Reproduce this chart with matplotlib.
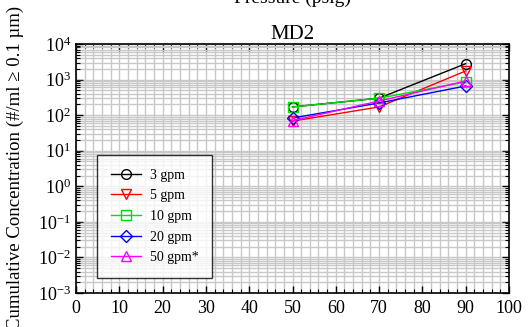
import matplotlib
matplotlib.use("Agg")
import matplotlib.pyplot as plt
from matplotlib.ticker import MultipleLocator, LogLocator, NullFormatter

plt.rcParams['font.family'] = ['Liberation Serif', 'DejaVu Serif']
plt.rcParams['mathtext.fontset'] = 'stix'

pressure = [50, 70, 90]
series_names = ["3 gpm", "5 gpm", "10 gpm", "20 gpm", "50 gpm*"]
conc_3 = [170, 300, 2800]
conc_5 = [68, 170, 1750]
conc_10 = [170, 300, 860]
conc_20 = [83, 220, 660]
conc_50 = [70, 250, 910]
colors = ["black", "red", "#00dd00", "blue", "magenta"]
markers = ["o", "v", "s", "D", "^"]
x_ticks = [0, 10, 20, 30, 40, 50, 60, 70, 80, 90, 100]

fig = plt.figure(figsize=(5.29, 3.27), dpi=100)
ax = fig.add_axes([76/529, 1 - 293/327, 433/529, 249/327])

for vals, name, c, m in zip([conc_3, conc_5, conc_10, conc_20, conc_50],
                            series_names, colors, markers):
    ax.plot(pressure, vals, color=c, marker=m, markersize=7 if m != "D" else 6,
            markerfacecolor="none", markeredgecolor=c, lw=1, label=name)

ax.set_yscale("log")
ax.set_xlim(0, 100)
ax.set_ylim(1e-3, 1e4)
ax.set_xticks(x_ticks)
ax.xaxis.set_minor_locator(MultipleLocator(2))
ax.yaxis.set_major_locator(LogLocator(base=10, numticks=20))
ax.yaxis.set_minor_locator(LogLocator(base=10, subs=range(2, 10), numticks=100))
ax.yaxis.set_minor_formatter(NullFormatter())

ax.grid(True, which="both", color="#c8c8c8", lw=1)
ax.set_axisbelow(True)
ax.tick_params(which="both", direction="in", top=True, right=True, labelsize=13)
ax.tick_params(axis="x", pad=5)
ax.tick_params(which="major", length=5, width=1)
ax.tick_params(which="minor", length=3, width=0.8)
for s in ax.spines.values():
    s.set_linewidth(1.2)

ax.set_title("MD2", fontsize=15, pad=3)
fig.text(292/529, 1 - 3/327, "Pressure (psig)", ha="center", va="baseline",
         fontsize=14)
fig.text(15/529, 1 - 168/327, "Cumulative Concentration (#/ml \u2265 0.1 \u00b5m)",
         rotation=90, ha="center", va="center", fontsize=13.5)

leg = ax.legend(loc="lower left", bbox_to_anchor=(0.048, 0.06), fontsize=10,
                frameon=True, fancybox=False, edgecolor="black",
                handlelength=2.2, handletextpad=0.6, borderpad=1.0,
                labelspacing=0.55, borderaxespad=0)
leg.get_frame().set_linewidth(1)

fig.savefig("out.png", dpi=100)
